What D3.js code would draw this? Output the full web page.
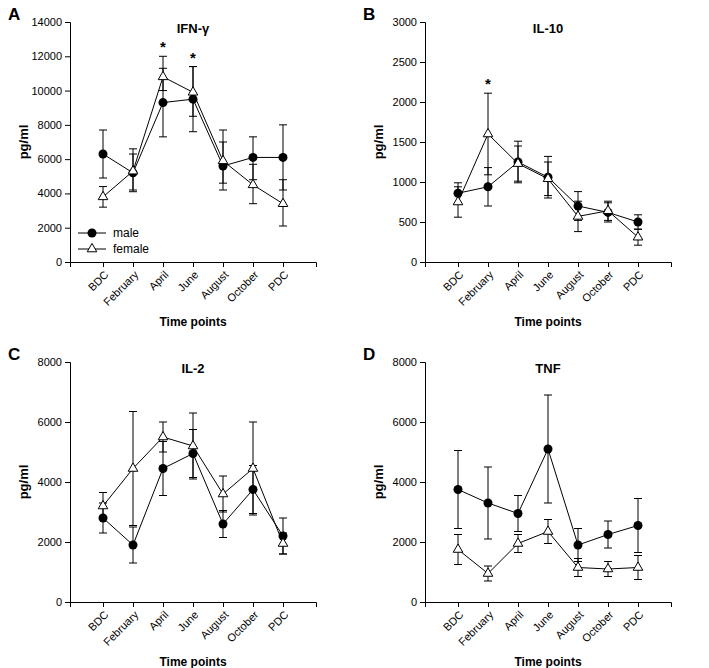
<!DOCTYPE html>
<html><head><meta charset="utf-8">
<script src="https://cdn.jsdelivr.net/npm/d3@7"></script>
<style>body{margin:0;background:#fff}text{font-family:Arial,"Liberation Sans",sans-serif}</style>
</head><body><svg id="c" width="709" height="668"></svg>
<script>
var categories = ['BDC','February','April','June','August','October','PDC'];
var ifnMale = [6300,5200,9300,9500,5600,6100,6100];
var ifnMaleLo = [4900,4200,7300,7600,4200,4800,4200];
var ifnMaleHi = [7700,6300,11300,11400,7000,7300,8000];
var ifnFemale = [3800,5300,10800,9900,5900,4500,3400];
var ifnFemaleLo = [3200,4100,10000,8500,4600,3400,2100];
var ifnFemaleHi = [4400,6600,12000,11400,7700,5700,4800];
var il10Male = [860,940,1250,1060,700,620,500];
var il10MaleErr = [130,240,260,260,180,120,90];
var il10Female = [750,1600,1230,1040,570,640,310];
var il10FemaleErr = [190,510,220,210,190,120,100];
var il2Male = [2800,1900,4450,4950,2600,3750,2200];
var il2MaleErr = [500,600,900,800,450,800,600];
var il2Female = [3200,4450,5500,5200,3600,4450,1950];
var il2FemaleErr = [450,1900,500,1100,600,1550,350];
var tnfMale = [3750,3300,2950,5100,1900,2250,2550];
var tnfMaleErr = [1300,1200,600,1800,550,450,900];
var tnfFemale = [1750,950,1950,2350,1150,1100,1150];
var tnfFemaleErr = [500,250,300,400,300,250,400];

function sym(v, e) { return v.map(function(d, i) { return [d - e[i], d + e[i]]; }); }
function pair(lo, hi) { return lo.map(function(d, i) { return [d, hi[i]]; }); }

var panels = [
  {letter:'A', title:'IFN-\u03b3', x0:70, y0:22, max:14000, step:2000,
   male:ifnMale, mErr:pair(ifnMaleLo, ifnMaleHi), female:ifnFemale, fErr:pair(ifnFemaleLo, ifnFemaleHi),
   stars:[2,3], legend:true},
  {letter:'B', title:'IL-10', x0:425, y0:22, max:3000, step:500,
   male:il10Male, mErr:sym(il10Male, il10MaleErr), female:il10Female, fErr:sym(il10Female, il10FemaleErr), stars:[1]},
  {letter:'C', title:'IL-2', x0:70, y0:362, max:8000, step:2000,
   male:il2Male, mErr:sym(il2Male, il2MaleErr), female:il2Female, fErr:sym(il2Female, il2FemaleErr), stars:[]},
  {letter:'D', title:'TNF', x0:425, y0:362, max:8000, step:2000,
   male:tnfMale, mErr:sym(tnfMale, tnfMaleErr), female:tnfFemale, fErr:sym(tnfFemale, tnfFemaleErr), stars:[]}
];

var svg = d3.select('#c');
var W = 246, H = 240;

panels.forEach(function(p) {
  var g = svg.append('g').attr('transform', 'translate(' + p.x0 + ',' + p.y0 + ')');
  var x = d3.scalePoint().domain(categories).range([0, W]).padding(1.1);
  var y = d3.scaleLinear().domain([0, p.max]).range([H, 0]);

  g.append('g').attr('transform', 'translate(0,' + H + ')')
    .call(d3.axisBottom(x).tickSizeOuter(0).tickSize(5))
    .selectAll('text').attr('transform', 'rotate(-45)').attr('text-anchor', 'end')
    .attr('dx', '-0.5em').attr('dy', '0.5em').style('font-size', '11px');
  g.append('g').call(d3.axisLeft(y).tickValues(d3.range(0, p.max + 1, p.step)).tickFormat(d3.format('d')).tickSizeOuter(0).tickSize(5))
    .selectAll('text').style('font-size', '11px');
  g.selectAll('.domain,.tick line').attr('stroke', '#000');

  g.append('text').attr('x', W / 2).attr('y', 11).attr('text-anchor', 'middle')
    .style('font-weight', 'bold').style('font-size', '13px').text(p.title);
  g.append('text').attr('transform', 'translate(-42,' + H / 2 + ') rotate(-90)').attr('text-anchor', 'middle')
    .style('font-weight', 'bold').style('font-size', '13px').text('pg/ml');
  g.append('text').attr('x', W / 2).attr('y', H + 64).attr('text-anchor', 'middle')
    .style('font-weight', 'bold').style('font-size', '12px').text('Time points');
  svg.append('text').attr('x', p.x0 - 62).attr('y', p.y0 - 2)
    .style('font-weight', 'bold').style('font-size', '17px').text(p.letter);

  var line = d3.line().x(function(d, i) { return x(categories[i]); }).y(function(d) { return y(d); });

  function drawSeries(vals, errs, female) {
    var s = g.append('g');
    s.selectAll('.err').data(errs).enter().append('path')
      .attr('d', function(d, i) {
        var cx = x(categories[i]);
        return 'M' + (cx - 4) + ',' + y(d[0]) + 'H' + (cx + 4) + 'M' + cx + ',' + y(d[0]) + 'V' + y(d[1]) + 'M' + (cx - 4) + ',' + y(d[1]) + 'H' + (cx + 4);
      }).attr('stroke', '#000').attr('fill', 'none');
    s.append('path').datum(vals).attr('d', line).attr('fill', 'none').attr('stroke', '#000');
    if (female) {
      s.selectAll('.pt').data(vals).enter().append('path')
        .attr('d', d3.symbol(d3.symbolTriangle, 40))
        .attr('transform', function(d, i) { return 'translate(' + x(categories[i]) + ',' + y(d) + ')'; })
        .attr('fill', '#fff').attr('stroke', '#000');
    } else {
      s.selectAll('.pt').data(vals).enter().append('circle')
        .attr('cx', function(d, i) { return x(categories[i]); }).attr('cy', function(d) { return y(d); })
        .attr('r', 4.5).attr('fill', '#000');
    }
  }
  drawSeries(p.male, p.mErr, false);
  drawSeries(p.female, p.fErr, true);

  p.stars.forEach(function(i) {
    var top = Math.max(p.mErr[i][1], p.fErr[i][1]);
    g.append('text').attr('x', x(categories[i])).attr('y', y(top) - 4).attr('text-anchor', 'middle')
      .style('font-size', '15px').style('font-weight', 'bold').text('*');
  });

  if (p.legend) {
    var lg = g.append('g').attr('transform', 'translate(8,211)');
    lg.append('line').attr('x1', 0).attr('x2', 28).attr('y1', 0).attr('y2', 0).attr('stroke', '#000');
    lg.append('circle').attr('cx', 14).attr('cy', 0).attr('r', 4.5);
    lg.append('text').attr('x', 35).attr('y', 4).style('font-size', '12px').text('male');
    lg.append('line').attr('x1', 0).attr('x2', 28).attr('y1', 16).attr('y2', 16).attr('stroke', '#000');
    lg.append('path').attr('d', d3.symbol(d3.symbolTriangle, 40)).attr('transform', 'translate(14,16)')
      .attr('fill', '#fff').attr('stroke', '#000');
    lg.append('text').attr('x', 35).attr('y', 20).style('font-size', '12px').text('female');
  }
});
</script></body></html>
